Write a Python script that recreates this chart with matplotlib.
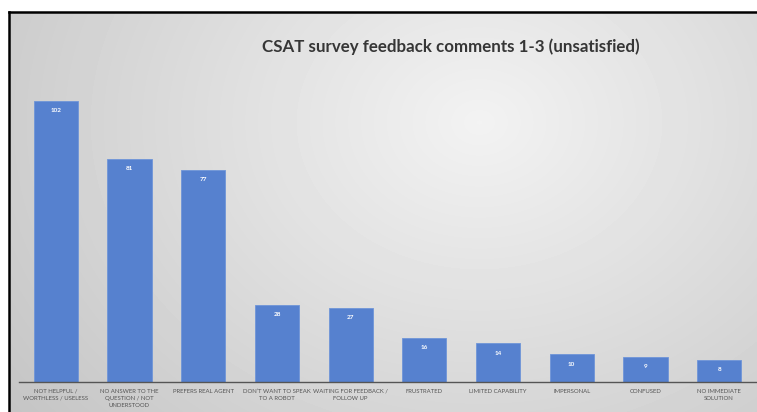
import numpy as np
import matplotlib
matplotlib.use("Agg")
import matplotlib.pyplot as plt
from matplotlib.lines import Line2D

categories = [
    "NOT HELPFUL /\nWORTHLESS / USELESS",
    "NO ANSWER TO THE\nQUESTION / NOT\nUNDERSTOOD",
    "PREFERS REAL AGENT",
    "DON\u2019T WANT TO SPEAK\nTO A ROBOT",
    "WAITING FOR FEEDBACK /\nFOLLOW UP",
    "FRUSTRATED",
    "LIMITED CAPABILITY",
    "IMPERSONAL",
    "CONFUSED",
    "NO IMMEDIATE\nSOLUTION",
]
values = [102, 81, 77, 28, 27, 16, 14, 10, 9, 8]
title = "CSAT survey feedback comments 1-3 (unsatisfied)"

W, H = 757, 412
fig = plt.figure(figsize=(W / 100, H / 100), dpi=100)
fig.patch.set_facecolor("white")

# background gradient inside the frame
bg = fig.add_axes([9 / W, 0, 1 - 9 / W, 1 - 12 / H], zorder=0)
yy, xx = np.mgrid[0:400, 0:748]
cx, cy = 470, 110
d = np.sqrt(((xx - cx) / 560.0) ** 2 + ((yy - cy) / 450.0) ** 2)
v = 0.95 - 0.17 * np.clip(d, 0, 1.3)
bg.imshow(v, cmap="gray", vmin=0, vmax=1, aspect="auto", interpolation="bilinear")
bg.set_axis_off()

# frame lines
fig.add_artist(Line2D([9 / W, 9 / W], [0, 1 - 12 / H], color="black", lw=1.8,
                      transform=fig.transFigure, zorder=5))
fig.add_artist(Line2D([9 / W, 1], [1 - 12 / H, 1 - 12 / H], color="black", lw=1.8,
                      transform=fig.transFigure, zorder=5))

ax = fig.add_axes([19 / W, 30 / H, 737 / W, 303 / H], zorder=2)
ax.patch.set_alpha(0)
x = np.arange(len(values))
bars = ax.bar(x, values, width=0.6, color="#5681cf", edgecolor="#6f95d8", linewidth=0.6)
ax.set_xlim(-0.5, 9.5)
ax.set_ylim(0, 110)
for s in ["top", "right", "left"]:
    ax.spines[s].set_visible(False)
ax.spines["bottom"].set_color("#555555")
ax.spines["bottom"].set_linewidth(1.0)
ax.set_yticks([])
ax.set_xticks(x)
ax.set_xticklabels(categories, fontsize=4.3, color="#555555", family="Lato",
                   linespacing=1.45, va="top")
ax.tick_params(axis="x", length=0, pad=5)

for xi, val in zip(x, values):
    ax.annotate(str(val), (xi, val), xytext=(0, -7), textcoords="offset points",
                ha="center", va="center", color="white", fontsize=4.6,
                fontweight="bold", family="Lato")

fig.text(451 / W, 1 - 47 / H, title, ha="center", va="center", fontsize=12.2,
         fontweight="bold", color="#363636", family="Lato")

fig.savefig("out.png", dpi=100)
